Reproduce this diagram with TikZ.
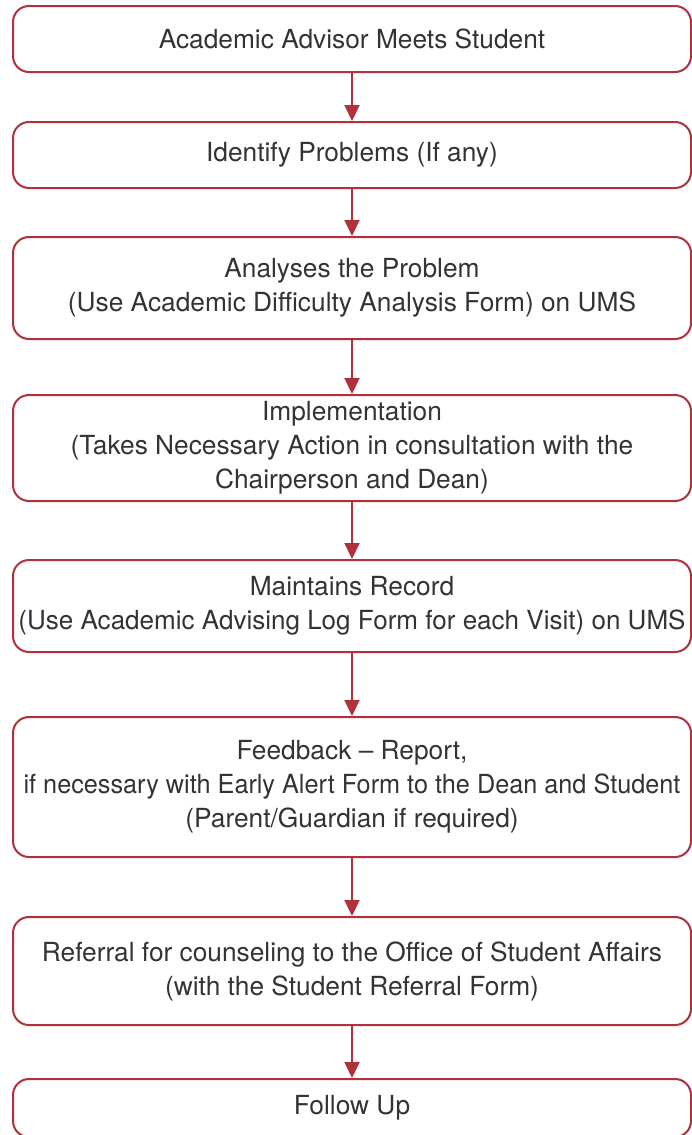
\documentclass[tikz,border=0pt]{standalone}
\usepackage{fontspec}
\setmainfont{TeX Gyre Heros}
\usetikzlibrary{arrows.meta}
\definecolor{flowred}{HTML}{B0303B}
\definecolor{flowtext}{HTML}{333333}
\begin{document}
\begin{tikzpicture}[x=1pt,y=-1pt,
  stepbox/.style={draw=flowred, line width=2pt, rounded corners=16pt,
    minimum width=678pt, inner xsep=0pt, inner ysep=0pt, align=center,
    text=flowtext, font=\fontsize{26.3}{34}\selectfont},
  flow/.style={draw=flowred, line width=2pt,
    -{Triangle[length=16pt,width=15pt]}}]
\useasboundingbox (0,0) rectangle (692,1135);
\clip (0,0) rectangle (692,1135);
\node[stepbox, minimum height=66pt]  (b1) at (352,39)   {Academic Advisor Meets Student};
\node[stepbox, minimum height=66pt]  (b2) at (352,155)  {Identify Problems (If any)};
\node[stepbox, minimum height=102pt] (b3) at (352,288)  {Analyses the Problem\\(Use Academic Difficulty Analysis Form) on UMS};
\node[stepbox, minimum height=106pt] (b4) at (352,448)  {Implementation\\(Takes Necessary Action in consultation with the\\Chairperson and Dean)};
\node[stepbox, minimum height=92pt]  (b5) at (352,606)  {Maintains Record\\\scalebox{0.99}[1]{(Use Academic Advising Log Form for each Visit) on UMS}};
\node[stepbox, minimum height=140pt] (b6) at (352,787)  {Feedback -- Report,\\\scalebox{0.96}[1]{if necessary with Early Alert Form to the Dean and Student}\\(Parent/Guardian if required)};
\node[stepbox, minimum height=108pt] (b7) at (352,971)  {Referral for counseling to the Office of Student Affairs\\(with the Student Referral Form)};
\node[stepbox, minimum height=58pt]  (b8) at (352,1108) {Follow Up};
\foreach \a/\b in {b1/b2,b2/b3,b3/b4,b4/b5,b5/b6,b6/b7,b7/b8}
  \draw[flow] (\a.south) -- (\b.north);
\end{tikzpicture}
\end{document}
